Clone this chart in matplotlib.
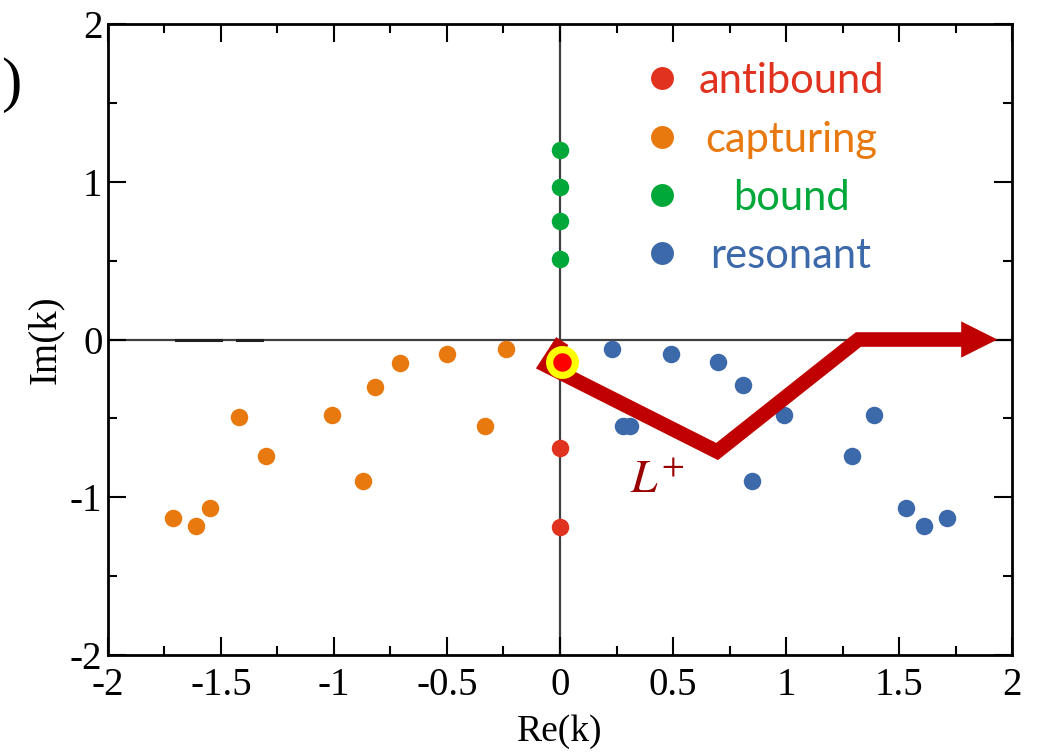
import matplotlib.pyplot as plt
from matplotlib.ticker import MultipleLocator

# pole positions in the complex k plane
capturing_re = [-1.71, -1.61, -1.55, -1.42, -1.30, -1.01, -0.87, -0.82, -0.71, -0.50, -0.33, -0.24]
capturing_im = [-1.13, -1.18, -1.07, -0.49, -0.74, -0.48, -0.90, -0.30, -0.15, -0.09, -0.55, -0.06]
resonant_re = [0.23, 0.28, 0.31, 0.49, 0.70, 0.81, 0.85, 0.99, 1.29, 1.39, 1.53, 1.61, 1.71]
resonant_im = [-0.06, -0.55, -0.55, -0.09, -0.14, -0.29, -0.90, -0.48, -0.74, -0.48, -1.07, -1.18, -1.13]
bound_re = [0.0, 0.0, 0.0, 0.0]
bound_im = [1.20, 0.97, 0.75, 0.51]
antibound_re = [0.0, 0.0]
antibound_im = [-0.69, -1.19]
special_re = [0.01]
special_im = [-0.14]

# L+ contour vertices, then arrow head
contour_re = [0.01, -0.06, 0.695, 1.32, 1.78]
contour_im = [-0.01, -0.165, -0.71, 0.0, 0.0]
arrow_tip = 1.935

# small dash artefact on the real axis
dash_re = [[-1.70, -1.50], [-1.43, -1.32]]

legend_labels = ['antibound', 'capturing', 'bound', 'resonant']
legend_colors = ['#e0321e', '#e8790f', '#00a839', '#3c69aa']

c_red, c_orange, c_green, c_blue = legend_colors
c_path = '#c00000'

fig = plt.figure(figsize=(10.38, 7.56), dpi=100)
ax = fig.add_axes([0.104, 0.1336, 0.871, 0.8346])

ax.set_xlim(-2, 2)
ax.set_ylim(-2, 2)

ax.axhline(0, color='#404040', lw=1.6, zorder=1)
ax.axvline(0, color='#404040', lw=1.6, zorder=1)
for seg in dash_re:
    ax.plot(seg, [0, 0], color='#202020', lw=2.2, zorder=1.5)

ms = 12.6
ax.plot(capturing_re, capturing_im, 'o', color=c_orange, ms=ms, mec='none', zorder=3)
ax.plot(resonant_re, resonant_im, 'o', color=c_blue, ms=ms, mec='none', zorder=3)
ax.plot(bound_re, bound_im, 'o', color=c_green, ms=ms, mec='none', zorder=3)
ax.plot(antibound_re, antibound_im, 'o', color=c_red, ms=ms, mec='none', zorder=3)

ax.plot(contour_re, contour_im, color=c_path, lw=10.5, solid_joinstyle='miter',
        solid_capstyle='butt', zorder=4)
ax.arrow(contour_re[-1] - 0.01, 0, arrow_tip - contour_re[-1] + 0.01, 0, width=0.0,
         head_width=0.23, head_length=0.16, length_includes_head=True,
         color=c_path, lw=0, zorder=4)

ax.plot(special_re, special_im, 'o', color='#ff0000', ms=18.5, mec='#ffff00', mew=5.2, zorder=5)

ax.text(0.31, -0.97, r'$L^{+}$', color='#9a0000', fontsize=34, math_fontfamily='stix', zorder=5)

# legend drawn by hand, centred coloured text
leg_y = [0.914, 0.821, 0.729, 0.637]
for lab, col, y in zip(legend_labels, legend_colors, leg_y):
    ax.plot([0.613], [y], 'o', color=col, ms=16.5, mec='none', transform=ax.transAxes,
            clip_on=False, zorder=6)
    ax.text(0.7555, y - 0.024, lab, color=col, fontsize=30, family=['Lato', 'DejaVu Sans'],
            ha='center', va='baseline', transform=ax.transAxes, zorder=6)

serif = ['Liberation Serif', 'DejaVu Serif']
ax.xaxis.set_major_locator(MultipleLocator(0.5))
ax.xaxis.set_minor_locator(MultipleLocator(0.25))
ax.yaxis.set_major_locator(MultipleLocator(1))
ax.yaxis.set_minor_locator(MultipleLocator(0.5))
ax.tick_params(which='both', direction='in', top=True, right=True, width=1.5)
ax.tick_params(which='major', length=13)
ax.tick_params(which='minor', length=6.5)
ax.tick_params(axis='x', pad=9)
ax.tick_params(axis='y', pad=4)
ax.set_xticks([-2, -1.5, -1, -0.5, 0, 0.5, 1, 1.5, 2])
ax.set_xticklabels(['-2', '-1.5', '-1', '-0.5', '0', '0.5', '1', '1.5', '2'])
ax.set_yticks([-2, -1, 0, 1, 2])
ax.set_yticklabels(['-2', '-1', '0', '1', '2'])
for lbl in ax.get_xticklabels() + ax.get_yticklabels():
    lbl.set_family(serif)
    lbl.set_fontsize(28)
for sp in ax.spines.values():
    sp.set_linewidth(2)

ax.set_xlabel('Re(k)', family=serif, fontsize=27, labelpad=7)
ax.set_ylabel('Im(k)', family=serif, fontsize=28, labelpad=4)

# panel label, only its closing parenthesis shows in the reference
fig.text(1 / 1038, 1 - 85 / 756, ')', family=serif, fontsize=44, ha='left', va='center')

fig.savefig('out.png', dpi=100)
